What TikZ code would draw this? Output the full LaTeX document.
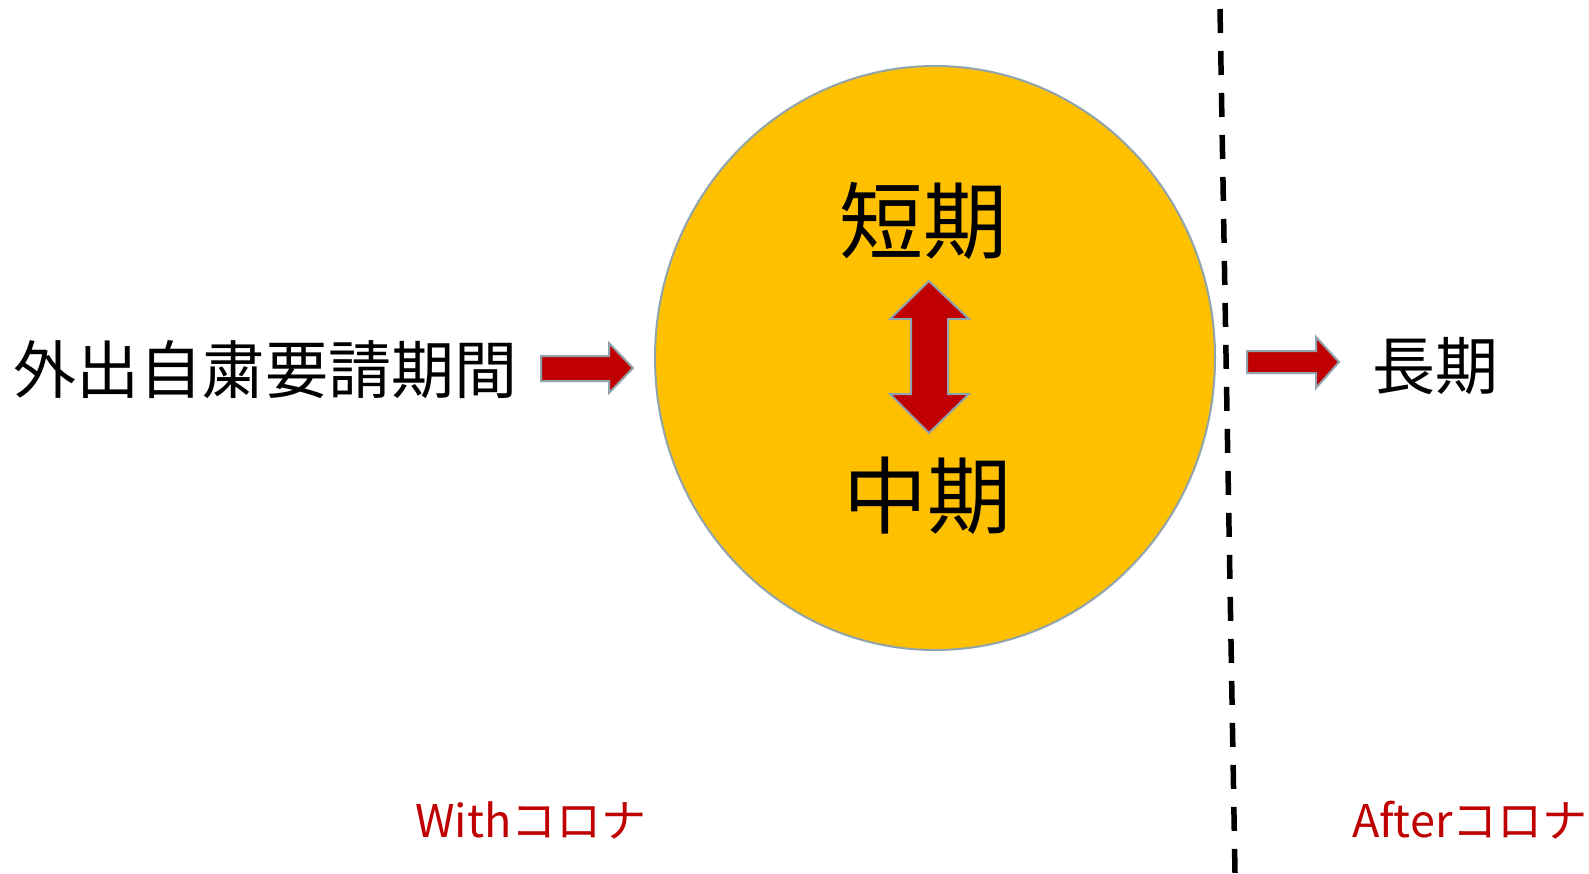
\documentclass[tikz,border=0pt]{standalone}
\usepackage{fontspec}
\setmainfont{Noto Sans CJK JP}
\definecolor{gold}{HTML}{FFC000}
\definecolor{darkred}{HTML}{C00000}
\definecolor{edge}{HTML}{8FA4AC}
\begin{document}
\begin{tikzpicture}[x=1pt,y=-1pt,
  blockarrow/.style={fill=darkred,draw=edge,line width=2pt,line join=miter},
  bigtxt/.style={inner sep=0pt,font=\fontsize{84}{84}\selectfont},
  midtxt/.style={inner sep=0pt,font=\fontsize{63}{63}\selectfont},
  era/.style={inner sep=0pt,text=darkred,font=\fontsize{45}{45}\selectfont}]
\useasboundingbox (0,0) rectangle (1589,873);
\fill[white] (0,0) rectangle (1589,873);
% circle
\draw[fill=gold,draw=edge,line width=2pt] (935,358) ellipse [x radius=280, y radius=292];
\coordinate (circ) at (935,358);
% dashed divider
\coordinate (dtop) at (1220,9);
\coordinate (dbot) at (1235,873);
\draw[line width=5.5pt,dash pattern=on 24pt off 18pt] (dtop) -- (dbot);
% texts
\node[midtxt,anchor=west] (left) at (13,370) {外出自粛要請期間};
\node[bigtxt] (short) at (923,221) {短期};
\node[bigtxt] (mid) at (927,496) {中期};
\node[midtxt] (long) at (1435,366) {長期};
\node[era] (with) at (531,820) {Withコロナ};
\node[era] (after) at (1470,820) {Afterコロナ};
% left arrow
\draw[blockarrow] (541,356) -- (609,356) -- (609,343) -- (633,368) -- (609,393) -- (609,381) -- (541,381) -- cycle;
% right arrow
\draw[blockarrow] (1247,351) -- (1316,351) -- (1316,337) -- (1339,362) -- (1316,388) -- (1316,373) -- (1247,373) -- cycle;
% double arrow
\draw[blockarrow] (929,281) -- (969,319) -- (948,319) -- (948,394) -- (969,394) -- (929,433) -- (890,394) -- (911,394) -- (911,319) -- (890,319) -- cycle;
\end{tikzpicture}
\end{document}
